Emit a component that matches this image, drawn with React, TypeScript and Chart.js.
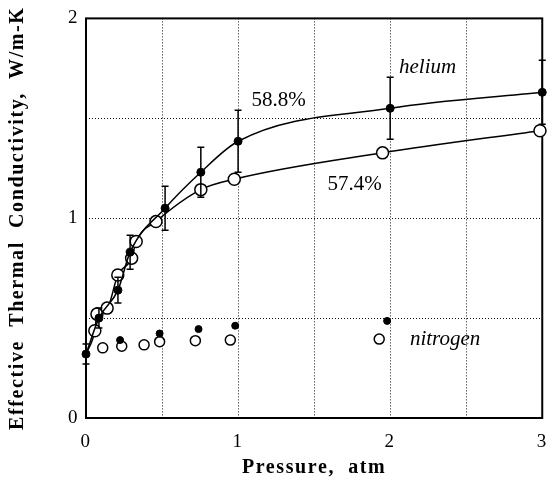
import React, { useEffect, useRef } from "react";
import { Chart, registerables } from "chart.js";

Chart.register(...registerables);

// Helium, 58.8% porosity (filled circles, with error bars)
const heFilledP = [0, 0.085, 0.21, 0.29, 0.52, 0.755, 1.0, 2.0, 3.0];
const heFilledK = [0.32, 0.5, 0.64, 0.83, 1.05, 1.23, 1.385, 1.55, 1.63];
const heFilledErr = [0.05, 0.05, 0.065, 0.085, 0.11, 0.125, 0.155, 0.155, 0.16];

// Helium, 57.4% porosity (open circles)
const heOpenP = [0, 0.058, 0.072, 0.139, 0.209, 0.3, 0.33, 0.46, 0.755, 0.975, 1.95, 2.985];
const heOpenK = [0.32, 0.437, 0.52, 0.55, 0.716, 0.8, 0.883, 0.983, 1.143, 1.195, 1.327, 1.438];

// Nitrogen (filled and open, no line)
const n2FilledP = [0.224, 0.484, 0.74, 0.981, 1.98];
const n2FilledK = [0.39, 0.423, 0.445, 0.462, 0.486];
const n2OpenP = [0.11, 0.235, 0.382, 0.484, 0.719, 0.949, 1.928];
const n2OpenK = [0.351, 0.359, 0.366, 0.382, 0.387, 0.39, 0.395];

// Tick labels
const xLabelValues = [0, 1, 2, 3];
const yLabelValues = [0, 1, 2];

// Annotation texts
const noteTexts = ["helium", "58.8%", "57.4%", "nitrogen"];
const noteItalic = [true, false, false, true];
const noteAnchors = [
  { p: 2.246, k: 1.752 },
  { p: 1.267, k: 1.588 },
  { p: 1.766, k: 1.171 },
  { p: 2.361, k: 0.392 },
];

const FONT = "'Liberation Serif', 'Times New Roman', serif";

const zip = (xs: number[], ys: number[]) => xs.map((x, i) => ({ x, y: ys[i] }));

const spacingPlugin = {
  id: "spacing",
  beforeDraw(chart: any) {
    chart.ctx.letterSpacing = "1.6px";
  },
};

const framePlugin = {
  id: "frame",
  beforeDatasetsDraw(chart: any) {
    const { ctx, chartArea: a } = chart;
    ctx.save();
    ctx.strokeStyle = "#000";
    ctx.lineWidth = 2;
    ctx.setLineDash([]);
    ctx.strokeRect(a.left, a.top, a.right - a.left, a.bottom - a.top);
    ctx.restore();
  },
};

const errorBarPlugin = {
  id: "errbars",
  afterDatasetsDraw(chart: any) {
    const { ctx } = chart;
    const xs = chart.scales.x;
    const ys = chart.scales.y;
    ctx.save();
    ctx.strokeStyle = "#000";
    ctx.lineWidth = 1.5;
    ctx.setLineDash([]);
    heFilledP.forEach((p, i) => {
      const px = xs.getPixelForValue(p);
      const top = ys.getPixelForValue(heFilledK[i] + heFilledErr[i]);
      const bot = ys.getPixelForValue(heFilledK[i] - heFilledErr[i]);
      ctx.beginPath();
      ctx.moveTo(px, top);
      ctx.lineTo(px, bot);
      ctx.moveTo(px - 3.5, top);
      ctx.lineTo(px + 3.5, top);
      ctx.moveTo(px - 3.5, bot);
      ctx.lineTo(px + 3.5, bot);
      ctx.stroke();
    });
    ctx.restore();
  },
};

const notePlugin = {
  id: "notes",
  afterDraw(chart: any) {
    const { ctx } = chart;
    const xs = chart.scales.x;
    const ys = chart.scales.y;
    ctx.save();
    ctx.letterSpacing = "0px";
    ctx.fillStyle = "#000";
    ctx.textAlign = "center";
    ctx.textBaseline = "middle";
    noteTexts.forEach((t, i) => {
      ctx.font = `${noteItalic[i] ? "italic " : ""}21px ${FONT}`;
      ctx.fillText(t, xs.getPixelForValue(noteAnchors[i].p), ys.getPixelForValue(noteAnchors[i].k));
    });
    ctx.restore();
  },
};

export default function App() {
  const ref = useRef<HTMLCanvasElement | null>(null);

  useEffect(() => {
    if (!ref.current) return;
    Chart.defaults.font.family = FONT;
    Chart.defaults.color = "#000";

    const chart = new Chart(ref.current, {
      type: "scatter",
      data: {
        datasets: [
          {
            label: "Helium 58.8%",
            data: zip(heFilledP, heFilledK),
            showLine: true,
            cubicInterpolationMode: "monotone",
            borderColor: "#000",
            borderWidth: 1.5,
            backgroundColor: "#000",
            pointBackgroundColor: "#000",
            pointBorderColor: "#000",
            pointRadius: 4,
            pointBorderWidth: 1,
            clip: false,
          } as any,
          {
            label: "Helium 57.4%",
            data: zip(heOpenP, heOpenK),
            showLine: true,
            cubicInterpolationMode: "monotone",
            borderColor: "#000",
            borderWidth: 1.5,
            pointBackgroundColor: "#fff",
            pointBorderColor: "#000",
            pointRadius: heOpenP.map((_, i) => (i === 0 ? 0 : 6)),
            pointBorderWidth: 1.5,
            clip: false,
          } as any,
          {
            label: "Nitrogen filled",
            data: zip(n2FilledP, n2FilledK),
            showLine: false,
            pointBackgroundColor: "#000",
            pointBorderColor: "#000",
            pointRadius: 3.5,
            clip: false,
          } as any,
          {
            label: "Nitrogen open",
            data: zip(n2OpenP, n2OpenK),
            showLine: false,
            pointBackgroundColor: "#fff",
            pointBorderColor: "#000",
            pointBorderWidth: 1.5,
            pointRadius: 5,
            clip: false,
          } as any,
        ],
      },
      options: {
        animation: false,
        responsive: true,
        maintainAspectRatio: false,
        layout: { padding: { top: 15, right: 5, left: 0, bottom: 0 } },
        plugins: {
          legend: { display: false },
          tooltip: { enabled: false },
        },
        scales: {
          x: {
            type: "linear",
            min: 0,
            max: 3,
            border: { display: false, dash: [1, 2] },
            grid: {
              color: "#111",
              lineWidth: 1,
              drawTicks: false,
            },
            ticks: {
              stepSize: 0.5,
              padding: 13,
              font: { size: 19, family: FONT },
              color: "#000",
              maxRotation: 0,
              autoSkip: false,
              callback: (v: any) => (xLabelValues.includes(Number(v)) ? String(v) : ""),
            },
            title: {
              display: true,
              text: "Pressure,  atm",
              font: { size: 20, weight: "bold", family: FONT },
              color: "#000",
              padding: { top: 0, bottom: 10 },
            },
            afterFit: (s: any) => {
              s.height = 72;
            },
          } as any,
          y: {
            type: "linear",
            min: 0,
            max: 2,
            border: { display: false, dash: [1, 2] },
            grid: {
              color: "#111",
              lineWidth: 1,
              drawTicks: false,
            },
            ticks: {
              stepSize: 0.5,
              padding: 7,
              font: { size: 19, family: FONT },
              color: "#000",
              autoSkip: false,
              callback: (v: any) => (yLabelValues.includes(Number(v)) ? String(v) : ""),
            },
            title: {
              display: true,
              text: "Effective  Thermal  Conductivity,  W/m-K",
              font: { size: 20, weight: "bold", family: FONT },
              color: "#000",
              padding: { top: 6, bottom: 0 },
            },
            afterFit: (s: any) => {
              s.width = 86;
            },
          } as any,
        },
      } as any,
      plugins: [spacingPlugin, framePlugin, errorBarPlugin, notePlugin],
    });

    return () => chart.destroy();
  }, []);

  return (
    <div style={{ position: "fixed", left: 0, top: 0, width: 560, height: 490, background: "#fff" }}>
      <canvas ref={ref} />
    </div>
  );
}
